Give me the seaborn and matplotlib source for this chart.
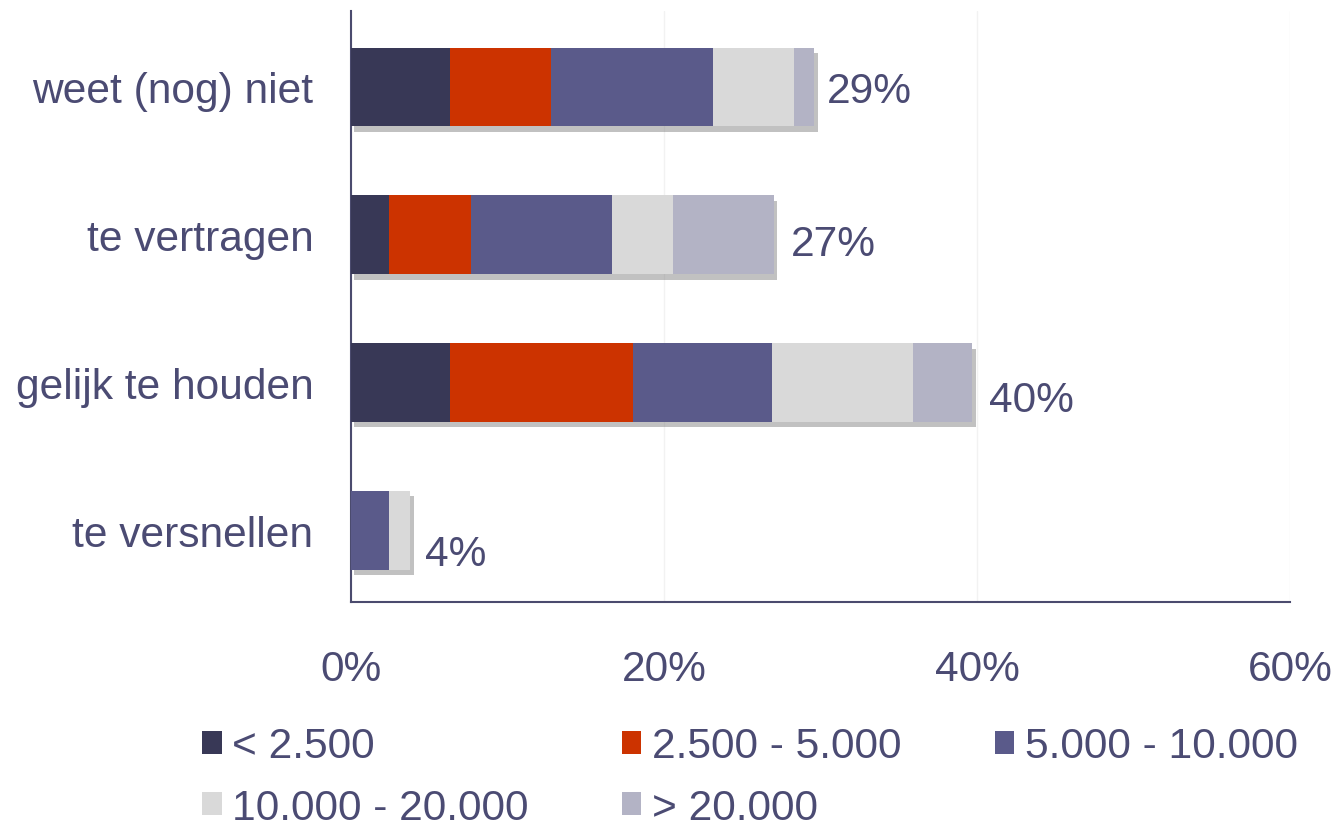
import matplotlib
matplotlib.use('Agg')
import matplotlib.pyplot as plt
import matplotlib.patheffects as pe
from matplotlib.patches import Patch
import numpy as np
import seaborn as sns

# categorieen (van boven naar beneden)
categorieen = ['weet (nog) niet', 'te vertragen', 'gelijk te houden', 'te versnellen']

# klassen voor de legenda
klassen = ['< 2.500', '2.500 - 5.000', '5.000 - 10.000', '10.000 - 20.000', '> 20.000']
kleuren = ['#383856', '#CC3300', '#5A5A8A', '#D9D9D9', '#B3B3C5']

# percentages per klasse
klein = [6.3, 2.4, 6.3, 0.0]
klein_midden = [6.5, 5.3, 11.7, 0.0]
midden = [10.3, 9.0, 8.9, 2.4]
groot_midden = [5.2, 3.9, 9.0, 1.4]
groot = [1.3, 6.4, 3.8, 0.0]

totaal_labels = ['29%', '27%', '40%', '4%']
label_offsets = [(13, -4), (17, -9), (17, -18), (15, -24)]

tekstkleur = '#4B4B73'
fs = 30.6

sns.set_style('white')
plt.rcParams['font.family'] = ['Liberation Sans', 'DejaVu Sans']

fig = plt.figure(figsize=(13.36, 8.28), dpi=100)
ax = fig.add_axes([0.2627, 0.2717, 0.7029, 0.7138])

reeksen = [klein, klein_midden, midden, groot_midden, groot]
cumulatief = np.cumsum(np.array(reeksen), axis=0)

# gestapelde balken: eerst de langste, daarna de kortere erover
for i in range(len(reeksen) - 1, -1, -1):
    n_voor = len(ax.patches)
    sns.barplot(x=cumulatief[i], y=categorieen, orient='h', color=kleuren[i],
                width=0.534, saturation=1, linewidth=0, ax=ax, zorder=3)
    if i == len(reeksen) - 1:
        for p in ax.patches[n_voor:]:
            p.set_path_effects([pe.SimplePatchShadow(offset=(2.5, -4), shadow_rgbFace='#666666', alpha=0.4),
                                pe.Normal()])

for j, lab in enumerate(totaal_labels):
    ax.annotate(lab, xy=(cumulatief[-1][j], j), xytext=label_offsets[j],
                textcoords='offset pixels', ha='left', va='center',
                fontsize=fs, color=tekstkleur)

ax.set_xlim(0, 60)
ax.set_ylim(3.486, -0.514)
ax.set_xticks([0, 20, 40, 60])
ax.set_xticklabels(['0%', '20%', '40%', '60%'])
ax.set_xlabel('')
ax.set_ylabel('')
ax.tick_params(axis='x', length=0, pad=34, labelsize=fs, labelcolor=tekstkleur)
ax.tick_params(axis='y', length=0, pad=27, labelsize=fs, labelcolor=tekstkleur)
ax.grid(axis='x', color='#F2F2F2', linewidth=1)
ax.set_axisbelow(True)
for kant in ['top', 'right']:
    ax.spines[kant].set_visible(False)
for kant in ['left', 'bottom']:
    ax.spines[kant].set_color('#4B4B6E')
    ax.spines[kant].set_linewidth(1.5)

# legenda rij voor rij vullen (matplotlib vult kolom voor kolom)
volgorde = [0, 3, 1, 4, 2]
handles = [Patch(facecolor=kleuren[k], edgecolor='none') for k in volgorde]
labels = [klassen[k] for k in volgorde]
fig.legend(handles, labels, loc='center', bbox_to_anchor=(750 / 1336, 0.0604), ncol=3,
           frameon=False, fontsize=fs, labelcolor=tekstkleur, handlelength=0.45,
           handleheight=0.45, handletextpad=0.25, columnspacing=2.2, labelspacing=0.5,
           borderpad=0)

fig.savefig('out.png', dpi=100)
